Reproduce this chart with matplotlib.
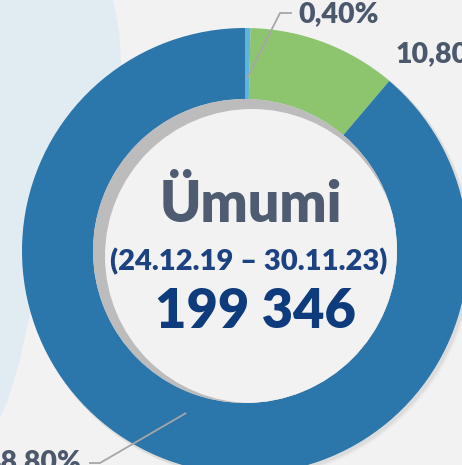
import numpy as np
import matplotlib
matplotlib.use("Agg")
import matplotlib.pyplot as plt
from matplotlib.patches import Circle, Polygon

plt.rcParams['font.family'] = ['Lato', 'DejaVu Sans']

# ---- data ----
categories = ["Kateqoriya A", "Kateqoriya B", "Kateqoriya C"]
values = [0.40, 10.80, 88.80]
value_labels = ["0,40%", "10,80%", "88,80%"]
colors = ["#5fb4dc", "#8dc56e", "#2b76aa"]
center_title = "Ümumi"
center_period = "(24.12.19 – 30.11.23)"
center_total = "199 346"

W, H = 462, 465
fig = plt.figure(figsize=(W / 100, H / 100), dpi=100)
fig.patch.set_facecolor("#f2f2f2")
ax = fig.add_axes([0, 0, 1, 1])

def Y(y):  # pixel-from-top -> axes y
    return H - y

cx, cy = 245, Y(251)
R_out, R_in = 223, 152

wedges, _ = ax.pie(values, colors=colors, startangle=90, counterclock=False,
                   radius=R_out, center=(cx, cy),
                   wedgeprops=dict(width=R_out - R_in, edgecolor="none"),
                   frame=True)
for w in wedges:
    w.set_zorder(2)
ax.set_xlim(0, W)
ax.set_ylim(0, H)
ax.set_aspect("equal")
ax.axis("off")

# background light-blue decorative shape on the left
bg = Polygon([(0, Y(0)), (113, Y(0)), (119, Y(30)), (123, Y(90)), (115, Y(170)),
              (60, Y(280)), (33, Y(300)), (20, Y(360)), (8, Y(400)), (0, Y(418))],
             closed=True, facecolor="#e1ecf2", edgecolor="none", zorder=0)
ax.add_patch(bg)

# soft shadow behind ring
for i, a in enumerate([0.10, 0.07, 0.04]):
    ax.add_patch(Circle((cx + 2 + i, cy - 2 - i), R_out + 1, facecolor="#8a8a8a",
                        edgecolor="none", alpha=a, zorder=1))

# inner hole: grey shadow + light disc clipped to hole
hole = Circle((cx, cy), R_in, facecolor="#bcbcbc", edgecolor="none", zorder=3)
ax.add_patch(hole)
light = Circle((cx + 7, cy - 5), R_in - 5, facecolor="#f2f2f2", edgecolor="none", zorder=4)
ax.add_patch(light)
light.set_clip_path(hole)

# labels with leader lines
lab_color = "#4c596d"
line_color = "#a6a6a6"
total = sum(values)
cum = 0
mids = []
for v in values:
    mid = 90 - (cum + v / 2) / total * 360
    mids.append(np.deg2rad(mid))
    cum += v

r_anchor = 173
# 0,40%
a = mids[0]
ax0, ay0 = cx + r_anchor * np.cos(a), cy + r_anchor * np.sin(a)
ax.plot([ax0, 280, 291], [ay0, Y(13), Y(13)], color=line_color, lw=1.3, zorder=5)
ax.text(298, Y(14), value_labels[0], ha="left", va="center", fontsize=20.5,
        fontweight="heavy", color=lab_color, zorder=6)
# 10,80%
ax.text(396, Y(54), value_labels[1], ha="left", va="center", fontsize=20.5,
        fontweight="heavy", color=lab_color, zorder=6)
# 88,80%
a = mids[2]
ax2, ay2 = cx + r_anchor * np.cos(a), cy + r_anchor * np.sin(a)
ax.plot([ax2, 100, 90], [ay2, Y(463), Y(463)], color=line_color, lw=1.3, zorder=5)
ax.text(81, Y(462), value_labels[2], ha="right", va="center", fontsize=20.5,
        fontweight="heavy", color=lab_color, zorder=6)

# center texts
ax.text(251, Y(222), center_title, ha="center", va="baseline", fontsize=40,
        fontweight="heavy", color="#4f5b70", zorder=6)
ax.text(249, Y(270), center_period, ha="center", va="baseline", fontsize=21,
        fontweight="heavy", color="#1d4281", zorder=6)
ax.text(255, Y(328), center_total, ha="center", va="baseline", fontsize=39,
        fontweight="heavy", color="#0d3b7b", zorder=6)

fig.savefig("out.png", dpi=100, facecolor=fig.get_facecolor())
